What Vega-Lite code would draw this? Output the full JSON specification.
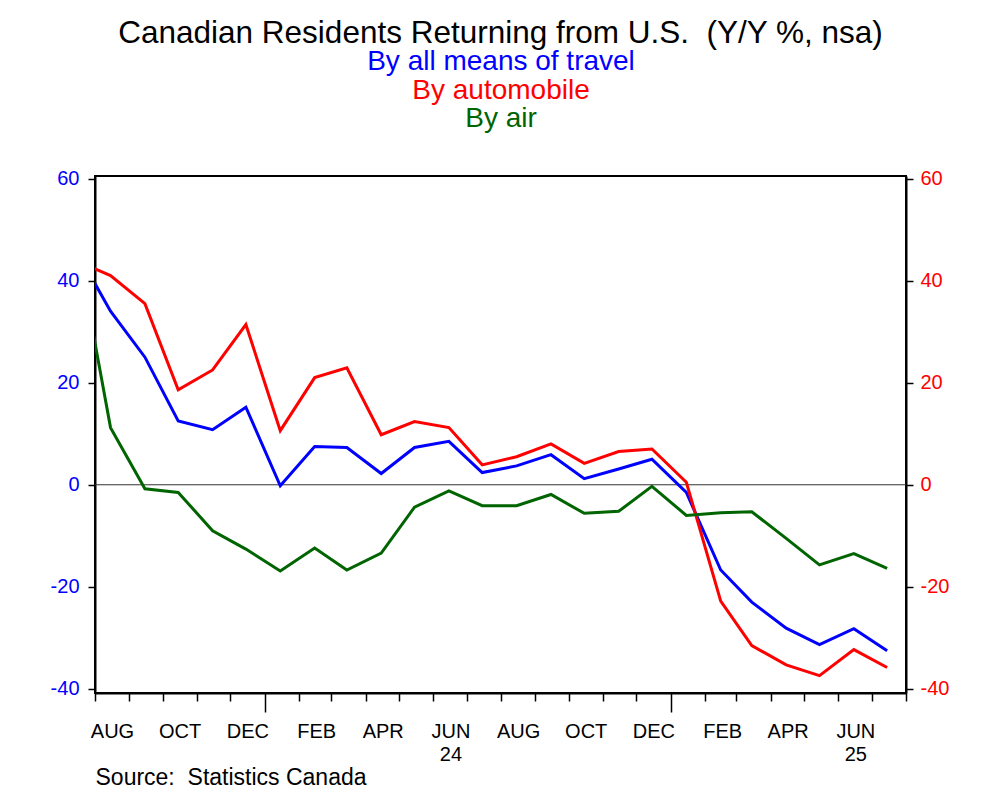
{
  "$schema": "https://vega.github.io/schema/vega-lite/v6.json",
  "width": 811,
  "height": 517,
  "autosize": {"type": "none"},
  "padding": {"left": 95, "top": 176, "right": 94, "bottom": 113},
  "background": "white",
  "config": {
    "view": {"stroke": "black", "strokeWidth": 2},
    "font": "Liberation Sans",
    "axis": {"domainColor": "black", "domainWidth": 2, "tickColor": "black", "tickWidth": 1.5, "grid": false, "labelFont": "Liberation Sans", "titleFont": "Liberation Sans"}
  },
  "title": {
    "text": "Canadian Residents Returning from U.S.\u00a0 (Y/Y %, nsa)",
    "font": "Liberation Sans",
    "fontSize": 31.5,
    "fontWeight": "normal",
    "color": "black",
    "anchor": "middle",
    "frame": "group",
    "offset": -26,
    "baseline": "alphabetic"
  },
  "layer": [
    {
      "data": {"values": [{"level": 0}]},
      "mark": {"type": "rule", "color": "#333333", "strokeWidth": 1},
      "encoding": {
        "y": {
          "field": "level",
          "type": "quantitative",
          "scale": {"domain": [-40.8, 60.5], "nice": false, "zero": false},
          "axis": {"orient": "right", "values": [-40, -20, 0, 20, 40, 60], "labelExpr": "datum.value < 0 ? '-' + abs(datum.value) : '' + datum.value", "labelColor": "#FF0000", "labelFontSize": 20, "tickSize": 7, "labelPadding": 7, "title": null}
        }
      }
    },
    {
      "data": {
        "values": [
          {"date": "2023-07-15", "series": "By all means of travel", "value": 46.0},
          {"date": "2023-08-15", "series": "By all means of travel", "value": 34.0},
          {"date": "2023-09-15", "series": "By all means of travel", "value": 25.0},
          {"date": "2023-10-15", "series": "By all means of travel", "value": 12.5},
          {"date": "2023-11-15", "series": "By all means of travel", "value": 10.8},
          {"date": "2023-12-15", "series": "By all means of travel", "value": 15.2},
          {"date": "2024-01-15", "series": "By all means of travel", "value": -0.2},
          {"date": "2024-02-15", "series": "By all means of travel", "value": 7.5},
          {"date": "2024-03-15", "series": "By all means of travel", "value": 7.3},
          {"date": "2024-04-15", "series": "By all means of travel", "value": 2.2},
          {"date": "2024-05-15", "series": "By all means of travel", "value": 7.3},
          {"date": "2024-06-15", "series": "By all means of travel", "value": 8.5},
          {"date": "2024-07-15", "series": "By all means of travel", "value": 2.4},
          {"date": "2024-08-15", "series": "By all means of travel", "value": 3.7},
          {"date": "2024-09-15", "series": "By all means of travel", "value": 5.9},
          {"date": "2024-10-15", "series": "By all means of travel", "value": 1.2},
          {"date": "2024-11-15", "series": "By all means of travel", "value": 3.1},
          {"date": "2024-12-15", "series": "By all means of travel", "value": 5.0},
          {"date": "2025-01-15", "series": "By all means of travel", "value": -1.5},
          {"date": "2025-02-15", "series": "By all means of travel", "value": -16.7},
          {"date": "2025-03-15", "series": "By all means of travel", "value": -23.0},
          {"date": "2025-04-15", "series": "By all means of travel", "value": -28.1},
          {"date": "2025-05-15", "series": "By all means of travel", "value": -31.3},
          {"date": "2025-06-15", "series": "By all means of travel", "value": -28.2},
          {"date": "2025-07-15", "series": "By all means of travel", "value": -32.5},
          {"date": "2023-07-15", "series": "By automobile", "value": 43.9},
          {"date": "2023-08-15", "series": "By automobile", "value": 41.0},
          {"date": "2023-09-15", "series": "By automobile", "value": 35.5},
          {"date": "2023-10-15", "series": "By automobile", "value": 18.6},
          {"date": "2023-11-15", "series": "By automobile", "value": 22.5},
          {"date": "2023-12-15", "series": "By automobile", "value": 31.4},
          {"date": "2024-01-15", "series": "By automobile", "value": 10.6},
          {"date": "2024-02-15", "series": "By automobile", "value": 21.0},
          {"date": "2024-03-15", "series": "By automobile", "value": 22.9},
          {"date": "2024-04-15", "series": "By automobile", "value": 9.8},
          {"date": "2024-05-15", "series": "By automobile", "value": 12.4},
          {"date": "2024-06-15", "series": "By automobile", "value": 11.2},
          {"date": "2024-07-15", "series": "By automobile", "value": 3.9},
          {"date": "2024-08-15", "series": "By automobile", "value": 5.5},
          {"date": "2024-09-15", "series": "By automobile", "value": 8.0},
          {"date": "2024-10-15", "series": "By automobile", "value": 4.2},
          {"date": "2024-11-15", "series": "By automobile", "value": 6.5},
          {"date": "2024-12-15", "series": "By automobile", "value": 7.0},
          {"date": "2025-01-15", "series": "By automobile", "value": 0.5},
          {"date": "2025-02-15", "series": "By automobile", "value": -22.8},
          {"date": "2025-03-15", "series": "By automobile", "value": -31.5},
          {"date": "2025-04-15", "series": "By automobile", "value": -35.3},
          {"date": "2025-05-15", "series": "By automobile", "value": -37.4},
          {"date": "2025-06-15", "series": "By automobile", "value": -32.3},
          {"date": "2025-07-15", "series": "By automobile", "value": -35.8},
          {"date": "2023-07-15", "series": "By air", "value": 47.9},
          {"date": "2023-08-15", "series": "By air", "value": 11.2},
          {"date": "2023-09-15", "series": "By air", "value": -0.8},
          {"date": "2023-10-15", "series": "By air", "value": -1.5},
          {"date": "2023-11-15", "series": "By air", "value": -9.0},
          {"date": "2023-12-15", "series": "By air", "value": -12.6},
          {"date": "2024-01-15", "series": "By air", "value": -16.9},
          {"date": "2024-02-15", "series": "By air", "value": -12.4},
          {"date": "2024-03-15", "series": "By air", "value": -16.7},
          {"date": "2024-04-15", "series": "By air", "value": -13.4},
          {"date": "2024-05-15", "series": "By air", "value": -4.4},
          {"date": "2024-06-15", "series": "By air", "value": -1.2},
          {"date": "2024-07-15", "series": "By air", "value": -4.1},
          {"date": "2024-08-15", "series": "By air", "value": -4.1},
          {"date": "2024-09-15", "series": "By air", "value": -1.9},
          {"date": "2024-10-15", "series": "By air", "value": -5.6},
          {"date": "2024-11-15", "series": "By air", "value": -5.2},
          {"date": "2024-12-15", "series": "By air", "value": -0.3},
          {"date": "2025-01-15", "series": "By air", "value": -6.0},
          {"date": "2025-02-15", "series": "By air", "value": -5.5},
          {"date": "2025-03-15", "series": "By air", "value": -5.3},
          {"date": "2025-04-15", "series": "By air", "value": -10.5},
          {"date": "2025-05-15", "series": "By air", "value": -15.7},
          {"date": "2025-06-15", "series": "By air", "value": -13.5},
          {"date": "2025-07-15", "series": "By air", "value": -16.4}
        ]
      },
      "mark": {"type": "line", "strokeWidth": 3, "clip": true},
      "encoding": {
        "x": {
          "field": "date",
          "type": "temporal",
          "scale": {"domain": [{"year": 2023, "month": 8, "date": 1}, {"year": 2025, "month": 8, "date": 1}]},
          "axis": {
            "title": "Source:\u00a0 Statistics Canada",
            "titleAnchor": "start",
            "titleAlign": "left",
            "titleFontSize": 23,
            "titleFontWeight": "normal",
            "titleColor": "black",
            "titlePadding": 2,
            "tickCount": {"interval": "month", "step": 1},
            "labelExpr": "datum.value >= datetime(2025, 7, 1) ? '' : (month(datum.value) % 2 == 1 ? (month(datum.value) == 5 ? ['JUN', timeFormat(datum.value, '%y')] : upper(timeFormat(datum.value, '%b'))) : '')",
            "labelOffset": 17,
            "labelOverlap": false,
            "labelFlush": false,
            "labelBound": false,
            "labelFontSize": 20,
            "labelColor": "black",
            "labelPadding": 20,
            "labelLineHeight": 23,
            "tickSize": {"condition": {"test": "month(datum.value) == 0", "value": 19}, "value": 8}
          }
        },
        "y": {
          "field": "value",
          "type": "quantitative",
          "scale": {"domain": [-40.8, 60.5], "nice": false, "zero": false},
          "axis": {"orient": "left", "values": [-40, -20, 0, 20, 40, 60], "labelExpr": "datum.value < 0 ? '-' + abs(datum.value) : '' + datum.value", "labelColor": "#0000FF", "labelFontSize": 20, "tickSize": 7, "labelPadding": 9, "title": null}
        },
        "color": {
          "field": "series",
          "type": "nominal",
          "scale": {"domain": ["By all means of travel", "By automobile", "By air"], "range": ["#0000FF", "#FF0000", "#006400"]},
          "legend": {
            "orient": "none",
            "legendX": 378,
            "legendY": -128,
            "direction": "vertical",
            "title": null,
            "symbolSize": 0,
            "symbolStrokeWidth": 0,
            "symbolOpacity": 0,
            "labelAlign": "center",
            "labelOffset": 0,
            "labelFontSize": 28,
            "labelFont": "Liberation Sans",
            "labelLimit": 0,
            "rowPadding": 0.5,
            "encode": {"labels": {"update": {"fill": {"scale": "color", "field": "value"}}}}
          }
        }
      }
    }
  ],
  "resolve": {"axis": {"y": "independent"}}
}
